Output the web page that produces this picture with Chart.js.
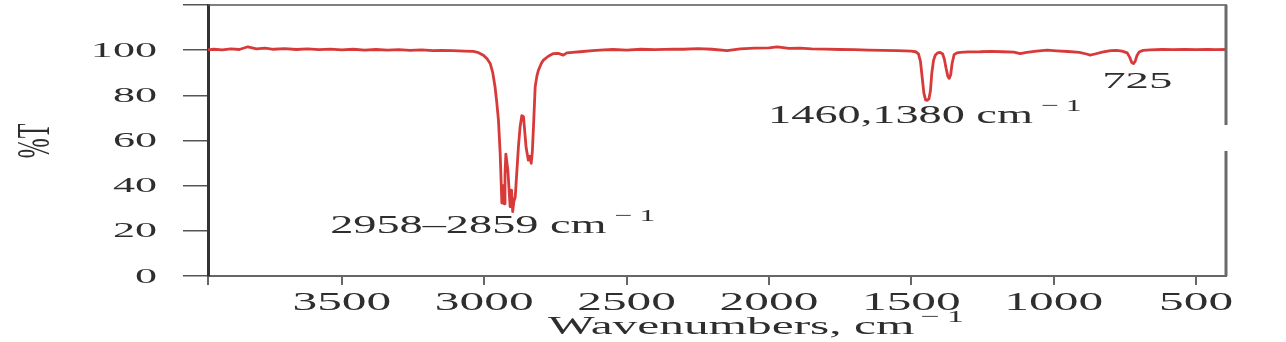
<!DOCTYPE html>
<html>
<head>
<meta charset="utf-8">
<script src="https://cdn.jsdelivr.net/npm/chart.js@4"></script>
<style>
    html, body { margin: 0; padding: 0; background: #fff; }
    canvas { display: block; }
</style>
</head>
<body>
<canvas id="irChart" width="1286" height="342"></canvas>
<script>
// IR spectrum - wavenumber (cm-1) vs transmittance (%T)
const wavenumbers = [
    3970, 3950, 3920, 3890, 3860, 3830, 3800, 3770, 3740, 3700, 3660, 3620, 3580, 3540, 3500,
    3460, 3420, 3380, 3340, 3300, 3260, 3220, 3180, 3150, 3110, 3070, 3038, 3020, 3003, 2990,
    2979, 2970, 2962, 2956, 2950, 2944, 2938, 2934, 2930, 2927, 2924, 2917, 2909, 2904, 2900,
    2896, 2891, 2885, 2880, 2874, 2868, 2862, 2857, 2853, 2845, 2840, 2835, 2831, 2827, 2821,
    2815, 2810, 2800, 2792, 2775, 2757, 2740, 2722, 2710, 2690, 2663, 2620, 2580, 2547, 2500,
    2450, 2400, 2336, 2300, 2250, 2200, 2147, 2101, 2050, 2000, 1971, 1930, 1890, 1850, 1800,
    1750, 1700, 1650, 1600, 1550, 1500, 1485, 1475, 1468, 1462, 1456, 1450, 1444, 1438, 1433,
    1428, 1422, 1416, 1408, 1399, 1390, 1384, 1378, 1372, 1367, 1362, 1357, 1350, 1340, 1328,
    1300, 1258, 1220, 1180, 1140, 1118, 1095, 1060, 1023, 990, 950, 910, 885, 872, 855,
    830, 800, 780, 760, 742, 733, 726, 720, 714, 708, 700, 686, 660, 620, 580,
    540, 500, 460, 430, 395
];
const transmittance = [
    100.1, 100.4, 100.1, 100.6, 100.3, 101.5, 100.6, 100.9, 100.4, 100.7, 100.3, 100.6, 100.2, 100.5, 100.1,
    100.4, 100.0, 100.3, 100.0, 100.2, 99.9, 100.1, 99.8, 99.9, 99.8, 99.6, 99.5, 98.9, 97.8, 96.2,
    94.1, 90.0, 83.8, 77.0, 69.0, 54.4, 32.3, 40.0, 32.0, 45.0, 54.0, 47.0, 30.7, 38.0, 28.5,
    33.0, 35.0, 47.0, 57.0, 66.0, 71.0, 70.5, 63.0, 57.0, 51.3, 53.0, 49.9, 55.0, 66.0, 83.8,
    88.5, 91.0, 94.0, 95.6, 97.3, 98.5, 98.6, 97.8, 98.8, 99.0, 99.3, 99.8, 100.1, 100.3, 100.0,
    100.4, 100.2, 100.5, 100.4, 100.7, 100.4, 99.8, 100.6, 100.9, 101.0, 101.5, 100.8, 100.9, 100.6, 100.5,
    100.3, 100.2, 100.0, 99.9, 99.8, 99.6, 99.3, 98.4, 95.0, 88.0, 81.0, 78.0, 77.8, 78.5, 82.0,
    90.0, 95.5, 97.8, 98.8, 99.0, 98.3, 96.0, 92.0, 88.5, 87.5, 89.0, 94.0, 98.0, 98.8, 99.0,
    99.2, 99.3, 99.5, 99.3, 99.1, 98.5, 99.0, 99.6, 100.0, 99.7, 99.4, 99.0, 98.3, 97.8, 98.3,
    99.1, 99.8, 99.9, 99.6, 98.8, 96.8, 94.5, 94.1, 95.0, 97.5, 99.2, 99.9, 100.1, 100.3, 100.2,
    100.3, 100.2, 100.3, 100.2, 100.3
];

// axis ticks
const xTicks = [3500, 3000, 2500, 2000, 1500, 1000, 500];
const yTicks = [0, 20, 40, 60, 80, 100];
const xMin = 395;
const xMax = 3970;
const yMax = 120;

// text
const yTitle = '%T';
const xTitle = 'Wavenumbers, cm';
const superscript = '−1';
const annotations = [
    { text: '2958–2859 cm', sup: true, wn: 3541, t: 19.0 },
    { text: '1460,1380 cm', sup: true, wn: 2003, t: 67.7 },
    { text: '725', sup: false, wn: 830, t: 83.2 }
];

const SERIF = '"Liberation Serif", "Times New Roman", serif';
const INK = '#2e2e2e';

// draws text stretched horizontally like the scanned figure
function stretchedText(ctx, text, x, y, size, sx, align, baseline) {
    ctx.save();
    ctx.font = `${size}px ${SERIF}`;
    ctx.fillStyle = INK;
    ctx.textAlign = align || 'left';
    ctx.textBaseline = baseline || 'alphabetic';
    ctx.translate(x, y);
    ctx.scale(sx, 1);
    ctx.fillText(text, 0, 0);
    const w = ctx.measureText(text).width * sx;
    ctx.restore();
    return w;
}

function withSuper(ctx, text, x, y, size, sx, gap) {
    const w = stretchedText(ctx, text, x, y, size, sx, 'left');
    ctx.save();
    ctx.letterSpacing = '4px';
    stretchedText(ctx, superscript, x + w + gap, y - 12, size * 0.68, sx, 'left');
    ctx.restore();
}

const figurePlugin = {
    id: 'figure',
    afterDraw(chart) {
        const ctx = chart.ctx;
        const area = chart.chartArea;
        const xs = chart.scales.x;
        const ys = chart.scales.y;

        // top frame and right frame (with the scan gap)
        ctx.save();
        ctx.strokeStyle = '#555';
        ctx.lineWidth = 1.5;
        ctx.beginPath();
        ctx.moveTo(area.left, area.top);
        ctx.lineTo(area.right + 1, area.top);
        ctx.stroke();
        ctx.strokeStyle = '#6a6a6a';
        ctx.lineWidth = 3;
        ctx.beginPath();
        ctx.moveTo(area.right, area.top);
        ctx.lineTo(area.right, 125);
        ctx.moveTo(area.right, 151);
        ctx.lineTo(area.right, area.bottom);
        ctx.stroke();
        ctx.restore();

        // tick labels
        yTicks.forEach(v => {
            stretchedText(ctx, String(v), 157, ys.getPixelForValue(v) + 1, 21, 2.1, 'right', 'middle');
        });
        xTicks.forEach(v => {
            stretchedText(ctx, String(v), xs.getPixelForValue(v), 310, 26, 1.9, 'center');
        });

        // axis titles
        withSuper(ctx, xTitle, 548, 334, 26, 1.9, 6);
        ctx.save();
        ctx.font = `24px ${SERIF}`;
        ctx.fillStyle = INK;
        ctx.textAlign = 'center';
        ctx.textBaseline = 'middle';
        ctx.translate(37, 141);
        ctx.rotate(-Math.PI / 2);
        ctx.scale(1, 1.9);
        ctx.fillText(yTitle, 0, 0);
        ctx.restore();

        // peak annotations
        annotations.forEach(a => {
            const px = xs.getPixelForValue(a.wn);
            const py = ys.getPixelForValue(a.t);
            if (a.sup) {
                withSuper(ctx, a.text, px, py, 26, 1.78, 8);
            } else {
                stretchedText(ctx, a.text, px, py, 24, 1.95, 'left');
            }
        });
    }
};

const ctx = document.getElementById('irChart');
const points = wavenumbers.map((wn, i) => ({ x: wn, y: transmittance[i] }));

new Chart(ctx, {
    type: 'line',
    data: {
        datasets: [{
            data: points,
            borderColor: '#d83a3a',
            borderWidth: 2.8,
            pointRadius: 0,
            tension: 0,
            borderJoinStyle: 'round',
            fill: false
        }]
    },
    options: {
        responsive: false,
        animation: false,
        layout: {
            padding: { top: 5, right: 60, left: 0, bottom: 0 }
        },
        plugins: {
            legend: { display: false },
            tooltip: { enabled: false }
        },
        scales: {
            x: {
                type: 'linear',
                reverse: true,
                min: xMin,
                max: xMax,
                afterBuildTicks: (scale) => {
                    scale.ticks = [xMax].concat(xTicks).map(v => ({ value: v }));
                },
                afterFit: (scale) => { scale.height = 66; },
                ticks: { display: false },
                grid: {
                    drawOnChartArea: false,
                    drawTicks: true,
                    tickLength: 9,
                    color: '#666',
                    lineWidth: 2
                },
                border: { display: true, color: '#666', width: 2 }
            },
            y: {
                min: 0,
                max: yMax,
                afterBuildTicks: (scale) => {
                    scale.ticks = yTicks.concat([yMax]).map(v => ({ value: v }));
                },
                afterFit: (scale) => { scale.width = 208; },
                ticks: { display: false },
                grid: {
                    drawOnChartArea: false,
                    drawTicks: true,
                    tickLength: 25,
                    color: '#555',
                    lineWidth: 1.5
                },
                border: { display: true, color: '#333', width: 3 }
            }
        }
    },
    plugins: [figurePlugin]
});
</script>
</body>
</html>
